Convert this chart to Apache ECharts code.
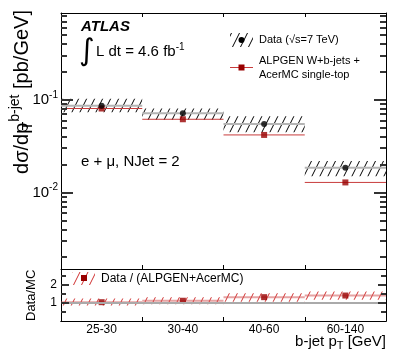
<!DOCTYPE html>
<html>
<head>
<meta charset="utf-8">
<script src="https://cdn.jsdelivr.net/npm/echarts@6/dist/echarts.min.js"></script>
<style>
html, body { margin: 0; padding: 0; background: #fff; }
#main { width: 407px; height: 360px; }
</style>
</head>
<body>
<div id="main"></div>
<script>
var categories = ['25-30', '30-40', '40-60', '60-140'];

// top panel: data with uncertainty band, MC prediction
var dataVal = [0.087, 0.072, 0.055, 0.0186];
var dataLo = [0.074, 0.061, 0.045, 0.0150];
var dataHi = [0.103, 0.081, 0.067, 0.0220];
var mcVal = [0.081, 0.062, 0.042, 0.0129];

// bottom panel: data / MC
var ratioVal = [1.05, 1.13, 1.33, 1.42];
var ratioLo = [0.86, 0.93, 1.08, 1.18];
var ratioHi = [1.25, 1.32, 1.55, 1.65];

var logMajorTicks = [0.01, 0.1];
var logMinorTicks = [0.002, 0.003, 0.004, 0.005, 0.006, 0.007, 0.008, 0.009,
	0.02, 0.03, 0.04, 0.05, 0.06, 0.07, 0.08, 0.09,
	0.2, 0.3, 0.4, 0.5, 0.6, 0.7, 0.8];
var ratioMajorTicks = [1, 2];
var ratioMinorTicks = [0.5, 1.5, 2.5];

var FONT = 'Liberation Sans, Arial, Helvetica, sans-serif';

function makeHatch(color) {
	var c = document.createElement('canvas');
	c.width = 8;
	c.height = 16;
	var ctx = c.getContext('2d');
	ctx.strokeStyle = color;
	ctx.lineWidth = 1;
	ctx.beginPath();
	for (var k = -1; k <= 1; k++) {
		ctx.moveTo(k * 8, 16);
		ctx.lineTo(k * 8 + 8, 0);
	}
	ctx.stroke();
	return { image: c, repeat: 'repeat' };
}
var blackHatch = makeHatch('#000');
var redHatch = makeHatch('#d03030');

// band + central line across a bin
function bandItem(pattern, lineColor, lineWidth) {
	return function(params, api) {
		var i = api.value(0);
		var lo = api.coord([i, api.value(1)]);
		var hi = api.coord([i, api.value(2)]);
		var mid = api.coord([i, api.value(3)]);
		var w = api.size([1, 0], [i, api.value(3)])[0];
		var x0 = lo[0] - w / 2;
		return {
			type : 'group',
			children : [{
				type : 'rect',
				shape : { x : x0, y : hi[1], width : w, height : lo[1] - hi[1] },
				style : { fill : pattern }
			}, {
				type : 'line',
				shape : { x1 : x0, y1 : mid[1], x2 : x0 + w, y2 : mid[1] },
				style : { stroke : lineColor, lineWidth : lineWidth }
			}]
		};
	};
}

function binLine(color, width) {
	return function(params, api) {
		var i = api.value(0);
		var p = api.coord([i, api.value(1)]);
		var w = api.size([1, 0], [i, api.value(1)])[0];
		return {
			type : 'line',
			shape : { x1 : p[0] - w / 2, y1 : p[1], x2 : p[0] + w / 2, y2 : p[1] },
			style : { stroke : color, lineWidth : width }
		};
	};
}

// inside ticks on both sides of a grid, placed by the y axis scale
function tickItem(params, api) {
	var cs = params.coordSys;
	var y = Math.round(api.coord([0, api.value(1)])[1]);
	var len = api.value(2);
	var st = { stroke : '#333', lineWidth : 2 };
	return {
		type : 'group',
		children : [
			{ type : 'line', shape : { x1 : cs.x, y1 : y, x2 : cs.x + len, y2 : y }, style : st },
			{ type : 'line', shape : { x1 : cs.x + cs.width - len, y1 : y, x2 : cs.x + cs.width, y2 : y }, style : st }
		]
	};
}

var dataBand = [], mcPts = [], dataPts = [], ratioBand = [], ratioPts = [];
for (var i = 0; i < categories.length; i++) {
	dataBand.push([i, dataLo[i], dataHi[i], dataVal[i]]);
	dataPts.push([i, dataVal[i]]);
	mcPts.push([i, mcVal[i]]);
	ratioBand.push([i, ratioLo[i], ratioHi[i], ratioVal[i]]);
	ratioPts.push([i, ratioVal[i]]);
}

var logTicks = [], ratioTicks = [];
logMajorTicks.forEach(function(v) { logTicks.push([0, v, 12]); });
logMinorTicks.forEach(function(v) { logTicks.push([0, v, 6]); });
ratioMajorTicks.forEach(function(v) { ratioTicks.push([0, v, 8]); });
ratioMinorTicks.forEach(function(v) { ratioTicks.push([0, v, 5]); });

function xAxisDef(grid, pos, showTick, showLabel) {
	return {
		type : 'category',
		gridIndex : grid,
		position : pos,
		data : categories,
		boundaryGap : true,
		axisLine : { show : true, lineStyle : { color : '#000', width : 1 } },
		axisTick : { show : showTick, inside : true, length : 4, interval : 0, lineStyle : { color : '#000' } },
		axisLabel : { show : showLabel, interval : 0, margin : 3, fontSize : 12, color : '#000', fontFamily : FONT },
		splitLine : { show : false }
	};
}

function yAxisDef(grid, type, min, max, pos, labels) {
	var ax = {
		type : type,
		gridIndex : grid,
		position : pos,
		min : min,
		max : max,
		axisLine : { show : true, lineStyle : { color : '#000', width : 1 } },
		axisTick : { show : false },
		axisLabel : { show : false },
		splitLine : { show : false }
	};
	if (labels) {
		ax.axisLabel = labels;
	}
	return ax;
}

var myChart = echarts.init(document.getElementById('main'));
var option = {
	animation : false,
	backgroundColor : '#fff',
	textStyle : { fontFamily : FONT },
	grid : [
		{ left : 61, right : 21, top : 13, height : 256 },
		{ left : 61, right : 21, top : 269, height : 52 }
	],
	xAxis : [
		xAxisDef(0, 'bottom', true, false),
		xAxisDef(0, 'top', true, false),
		xAxisDef(1, 'bottom', true, true),
		xAxisDef(1, 'top', false, false)
	],
	yAxis : [
		yAxisDef(0, 'log', 0.0015, 0.87, 'left', {
			show : true,
			customValues : logMajorTicks,
			margin : 3,
			color : '#000',
			fontSize : 15,
			fontFamily : FONT,
			formatter : function(v) {
				return '10{sup|' + Math.round(Math.log10(v)) + '}';
			},
			rich : {
				sup : { fontSize : 10, fontFamily : FONT, color : '#000', padding : [0, 0, 10, 0] }
			}
		}),
		yAxisDef(0, 'log', 0.0015, 0.87, 'right'),
		yAxisDef(1, 'value', 0, 2.9, 'left', {
			show : true,
			customValues : ratioMajorTicks,
			margin : 4,
			color : '#000',
			fontSize : 12,
			fontFamily : FONT
		}),
		yAxisDef(1, 'value', 0, 2.9, 'right')
	],
	series : [{
		name : 'Log ticks',
		type : 'custom',
		xAxisIndex : 0,
		yAxisIndex : 0,
		z : 6,
		renderItem : tickItem,
		data : logTicks
	}, {
		name : 'Ratio ticks',
		type : 'custom',
		xAxisIndex : 2,
		yAxisIndex : 2,
		z : 6,
		renderItem : tickItem,
		data : ratioTicks
	}, {
		name : 'Data band',
		type : 'custom',
		xAxisIndex : 0,
		yAxisIndex : 0,
		z : 2,
		renderItem : bandItem(blackHatch, '#b4b4b4', 2),
		data : dataBand
	}, {
		name : 'MC line',
		type : 'custom',
		xAxisIndex : 0,
		yAxisIndex : 0,
		z : 3,
		renderItem : binLine('#c83c3c', 1),
		data : mcPts
	}, {
		name : 'MC',
		type : 'scatter',
		xAxisIndex : 0,
		yAxisIndex : 0,
		z : 4,
		symbol : 'rect',
		symbolSize : 6,
		itemStyle : { color : '#990000' },
		data : mcPts
	}, {
		name : 'Data',
		type : 'scatter',
		xAxisIndex : 0,
		yAxisIndex : 0,
		z : 5,
		symbol : 'circle',
		symbolSize : 6,
		itemStyle : { color : '#000' },
		data : dataPts
	}, {
		name : 'Ratio band',
		type : 'custom',
		xAxisIndex : 2,
		yAxisIndex : 2,
		z : 3,
		renderItem : bandItem(redHatch, 'rgba(210,90,90,0.55)', 2),
		data : ratioBand
	}, {
		name : 'Ratio',
		type : 'scatter',
		xAxisIndex : 2,
		yAxisIndex : 2,
		z : 4,
		symbol : 'rect',
		symbolSize : 6,
		itemStyle : { color : '#990000' },
		data : ratioPts,
		markLine : {
			silent : true,
			symbol : 'none',
			label : { show : false },
			lineStyle : { color : '#aaa', width : 2, type : 'solid' },
			data : [{ yAxis : 1 }]
		}
	}, {
		type : 'scatter', xAxisIndex : 1, yAxisIndex : 1, silent : true,
		symbolSize : 0, itemStyle : { opacity : 0 }, data : dataPts
	}, {
		type : 'scatter', xAxisIndex : 3, yAxisIndex : 3, silent : true,
		symbolSize : 0, itemStyle : { opacity : 0 }, data : ratioPts
	}],
	graphic : [
		// y axis titles
		{
			type : 'text', x : 22, y : 10, rotation : Math.PI / 2,
			style : {
				text : 'dσ/dp{sub|T}{sup|b-jet} [pb/GeV]',
				fontSize : 20, fontFamily : FONT, fill : '#000',
				align : 'right', verticalAlign : 'middle',
				rich : {
					sub : { fontSize : 14, fontFamily : FONT, padding : [12, 0, 0, 0], width : 1 },
					sup : { fontSize : 14, fontFamily : FONT, padding : [0, 0, 14, 0] }
				}
			}
		},
		{
			type : 'text', x : 31, y : 321, rotation : Math.PI / 2,
			style : {
				text : 'Data/MC', fontSize : 13, fontFamily : FONT, fill : '#000',
				align : 'left', verticalAlign : 'middle'
			}
		},
		// x axis title
		{
			type : 'text', x : 386, y : 342,
			style : {
				text : 'b-jet p{sub|T} [GeV]', fontSize : 15, fontFamily : FONT, fill : '#000',
				align : 'right', verticalAlign : 'middle',
				rich : { sub : { fontSize : 11, fontFamily : FONT, padding : [8, 0, 0, 0] } }
			}
		},
		// labels
		{
			type : 'text', x : 81, y : 27,
			style : {
				text : 'ATLAS', fontSize : 15, fontWeight : 'bold', fontStyle : 'italic',
				fontFamily : FONT, fill : '#000', verticalAlign : 'middle'
			}
		},
		{
			type : 'text', x : 79, y : 52,
			style : {
				text : '∫', fontSize : 30, fontFamily : 'DejaVu Sans', fill : '#000', verticalAlign : 'middle'
			}
		},
		{
			type : 'text', x : 96, y : 52,
			style : {
				text : 'L dt = 4.6 fb{sup|-1}', fontSize : 15, fontFamily : FONT, fill : '#000',
				verticalAlign : 'middle',
				rich : { sup : { fontSize : 10, fontFamily : FONT, padding : [0, 0, 10, 0] } }
			}
		},
		{
			type : 'text', x : 81, y : 162,
			style : {
				text : 'e + μ, NJet = 2', fontSize : 15, fontFamily : FONT, fill : '#000', verticalAlign : 'middle'
			}
		},
		// legend top
		{
			type : 'rect', shape : { x : 230, y : 33, width : 23, height : 14 },
			style : { fill : blackHatch }
		},
		{ type : 'circle', shape : { cx : 241.5, cy : 40, r : 3 }, style : { fill : '#000' } },
		{
			type : 'text', x : 259, y : 40,
			style : { text : 'Data (√s=7 TeV)', fontSize : 11, fontFamily : FONT, fill : '#000', verticalAlign : 'middle' }
		},
		{ type : 'line', shape : { x1 : 230, y1 : 67.5, x2 : 253, y2 : 67.5 }, style : { stroke : '#c83c3c', lineWidth : 1 } },
		{ type : 'rect', shape : { x : 238.5, y : 64.5, width : 6, height : 6 }, style : { fill : '#990000' } },
		{
			type : 'text', x : 259, y : 61,
			style : { text : 'ALPGEN W+b-jets +', fontSize : 11, fontFamily : FONT, fill : '#000', verticalAlign : 'middle' }
		},
		{
			type : 'text', x : 259, y : 74.5,
			style : { text : 'AcerMC single-top', fontSize : 11, fontFamily : FONT, fill : '#000', verticalAlign : 'middle' }
		},
		// legend bottom
		{
			type : 'rect', shape : { x : 72, y : 272, width : 23, height : 13 },
			style : { fill : redHatch }
		},
		{ type : 'rect', shape : { x : 81, y : 275, width : 6, height : 6 }, style : { fill : '#990000' } },
		{
			type : 'text', x : 101, y : 278.5,
			style : { text : 'Data / (ALPGEN+AcerMC)', fontSize : 12, fontFamily : FONT, fill : '#000', verticalAlign : 'middle' }
		}
	]
};
myChart.setOption(option);
</script>
</body>
</html>
